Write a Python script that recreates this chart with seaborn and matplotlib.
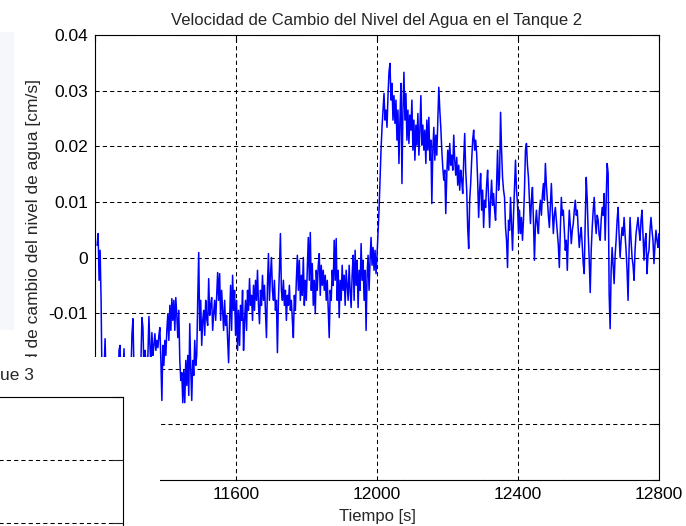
import numpy as np
import pandas as pd
import matplotlib
matplotlib.use("Agg")
import matplotlib.pyplot as plt
from matplotlib.patches import Rectangle
import seaborn as sns

# Tanque 2: velocidad de cambio del nivel [cm/s], muestreo uniforme
T_INICIO = 11206          # s, primera muestra visible
PERIODO = 2.826           # s entre muestras leidas
VELOCIDAD = [
    0.0022, 0.0043, -0.0041, 0.0013, -0.0077,
    -0.0239, -0.0212, -0.0203, -0.0146, -0.0221, -0.0207, -0.0230, -0.0203, -0.0218, -0.0243,
    -0.0230, -0.0203, -0.0221, -0.0212, -0.0236, -0.0207, -0.0239, -0.0167, -0.0158, -0.0221,
    -0.0194, -0.0203, -0.0164, -0.0230, -0.0200, -0.0218, -0.0212, -0.0230, -0.0239, -0.0207,
    -0.0137, -0.0110, -0.0203, -0.0189, -0.0221, -0.0207, -0.0194, -0.0218, -0.0230, -0.0185,
    -0.0108, -0.0126, -0.0203, -0.0167, -0.0185, -0.0207, -0.0176, -0.0106, -0.0158, -0.0194,
    -0.0135, -0.0176, -0.0158, -0.0137, -0.0167, -0.0149, -0.0162, -0.0140, -0.0126, -0.0185,
    -0.0257, -0.0158, -0.0194, -0.0149, -0.0176, -0.0131, -0.0101, -0.0149, -0.0086, -0.0131,
    -0.0074, -0.0113, -0.0077, -0.0131, -0.0072, -0.0104, -0.0144, -0.0095, -0.0185, -0.0221,
    -0.0207, -0.0261, -0.0203, -0.0261, -0.0185, -0.0230, -0.0176, -0.0248, -0.0119, -0.0203,
    -0.0257, -0.0185, -0.0212, -0.0149, -0.0194, -0.0176, -0.0077, 0.0009, -0.0131, -0.0077,
    -0.0158, -0.0113, -0.0095, -0.0140, -0.0077, -0.0110, -0.0122, -0.0038, -0.0104, -0.0086,
    -0.0072, -0.0131, -0.0099, -0.0077, -0.0113, -0.0068, -0.0027, -0.0077, -0.0029, -0.0113,
    -0.0059, -0.0095, -0.0131, -0.0077, -0.0122, -0.0104, -0.0149, -0.0189, -0.0113, -0.0050,
    -0.0131, -0.0032, -0.0095, -0.0059, -0.0140, -0.0077, -0.0167, -0.0095, -0.0158, -0.0086,
    -0.0113, -0.0059, -0.0167, -0.0113, -0.0077, -0.0131, -0.0059, -0.0095, -0.0038, -0.0086,
    -0.0068, -0.0113, -0.0050, -0.0095, -0.0041, -0.0077, -0.0023, -0.0086, -0.0119, -0.0059,
    -0.0086, -0.0032, -0.0077, -0.0050, -0.0095, -0.0144, -0.0050, 0.0007, -0.0077, -0.0032,
    0.0000, -0.0059, -0.0077, -0.0041, -0.0095, -0.0077, -0.0171, -0.0077, -0.0023, 0.0043,
    -0.0059, -0.0077, -0.0041, -0.0086, -0.0059, -0.0113, -0.0068, -0.0086, -0.0050, -0.0095,
    -0.0077, -0.0113, -0.0144, -0.0068, -0.0095, -0.0041, 0.0004, -0.0059, -0.0005, -0.0077,
    -0.0032, -0.0068, 0.0000, -0.0086, -0.0041, -0.0077, -0.0023, 0.0036, -0.0041, 0.0045,
    -0.0059, -0.0011, -0.0086, -0.0041, -0.0101, -0.0023, -0.0059, -0.0014, 0.0007, -0.0068,
    -0.0014, -0.0050, -0.0023, -0.0059, -0.0032, -0.0077, -0.0041, -0.0095, -0.0144, -0.0059,
    -0.0077, -0.0023, -0.0050, 0.0031, -0.0041, 0.0034, -0.0077, -0.0023, -0.0108, -0.0041,
    -0.0077, -0.0014, -0.0059, -0.0032, -0.0086, -0.0023, -0.0050, -0.0077, -0.0014, -0.0059,
    -0.0090, -0.0032, 0.0004, -0.0077, 0.0013, -0.0050, -0.0005, -0.0090, -0.0023, -0.0059,
    0.0025, -0.0041, -0.0005, -0.0077, -0.0023, -0.0131, -0.0032, 0.0004, -0.0059, -0.0005,
    0.0036, -0.0014, 0.0018, -0.0023, 0.0013, -0.0029, 0.0004, 0.0043, 0.0085, 0.0139,
    0.0193, 0.0234, 0.0265, 0.0295, 0.0247, 0.0265, 0.0234, 0.0291, 0.0333, 0.0349,
    0.0283, 0.0313, 0.0247, 0.0291, 0.0241, 0.0283, 0.0211, 0.0265, 0.0169, 0.0247,
    0.0313, 0.0133, 0.0265, 0.0333, 0.0247, 0.0295, 0.0211, 0.0265, 0.0205, 0.0256,
    0.0229, 0.0283, 0.0193, 0.0247, 0.0175, 0.0238, 0.0202, 0.0259, 0.0184, 0.0229,
    0.0291, 0.0202, 0.0238, 0.0193, 0.0229, 0.0169, 0.0247, 0.0193, 0.0252, 0.0175,
    0.0211, 0.0097, 0.0193, 0.0234, 0.0175, 0.0220, 0.0184, 0.0247, 0.0306, 0.0265,
    0.0234, 0.0193, 0.0162, 0.0139, 0.0157, 0.0079, 0.0148, 0.0193, 0.0157, 0.0205,
    0.0166, 0.0184, 0.0157, 0.0220, 0.0175, 0.0148, 0.0180, 0.0130, 0.0166, 0.0121,
    0.0157, 0.0139, 0.0115, 0.0175, 0.0223, 0.0157, 0.0121, 0.0054, 0.0016, 0.0103,
    0.0133, 0.0175, 0.0211, 0.0229, 0.0193, 0.0211, 0.0187, 0.0139, 0.0072, 0.0121,
    0.0151, 0.0085, 0.0121, 0.0054, 0.0103, 0.0090, 0.0130, 0.0157, 0.0103, 0.0054,
    0.0103, 0.0139, 0.0094, 0.0115, 0.0085, 0.0067, 0.0130, 0.0193, 0.0121, 0.0144,
    0.0261, 0.0193, 0.0144, 0.0121, 0.0108, 0.0054, 0.0031, -0.0018, 0.0067, 0.0049,
    0.0108, 0.0058, 0.0013, 0.0076, 0.0126, 0.0175, 0.0121, 0.0097, 0.0043, 0.0085,
    0.0043, 0.0072, 0.0031, 0.0067, 0.0121, 0.0193, 0.0205, 0.0166, 0.0144, 0.0103,
    0.0061, 0.0103, 0.0126, 0.0067, -0.0005, 0.0058, 0.0085, 0.0058, 0.0043, 0.0085,
    0.0103, 0.0076, 0.0112, 0.0133, 0.0103, 0.0169, 0.0130, 0.0103, 0.0076, 0.0054,
    0.0094, 0.0133, 0.0085, 0.0043, 0.0076, 0.0090, 0.0067, 0.0043, 0.0022, -0.0018,
    0.0049, 0.0108, 0.0076, 0.0085, 0.0049, 0.0013, 0.0031, -0.0023, 0.0040, 0.0085,
    0.0058, 0.0025, 0.0049, 0.0061, 0.0085, 0.0103, 0.0076, 0.0085, 0.0049, 0.0018,
    0.0040, 0.0054, 0.0022, -0.0011, -0.0029, 0.0067, 0.0144, 0.0103, 0.0043, -0.0005,
    -0.0063, 0.0013, 0.0054, 0.0085, 0.0108, 0.0067, 0.0043, 0.0076, 0.0067, 0.0040,
    0.0031, 0.0067, 0.0090, 0.0076, 0.0115, 0.0031, 0.0103, 0.0169, 0.0151, -0.0065,
    -0.0128, -0.0023, 0.0018, -0.0014, -0.0047, 0.0004, 0.0031, 0.0067, 0.0090, 0.0040,
    0.0000, 0.0031, 0.0054, 0.0040, 0.0072, 0.0040, 0.0013, -0.0023, -0.0077, 0.0013,
    0.0072, 0.0031, 0.0000, -0.0014, -0.0041, 0.0013, 0.0043, 0.0058, 0.0072, 0.0049,
    0.0031, 0.0067, 0.0085, 0.0040, -0.0005, 0.0031, 0.0043, -0.0029, 0.0004, 0.0013,
    0.0049, 0.0072, 0.0049, 0.0031, -0.0011, 0.0022, 0.0049, 0.0031, 0.0018, 0.0043,
]

X_TICKS = [11200, 11600, 12000, 12400, 12800]
Y_TICKS = [-0.04, -0.03, -0.02, -0.01, 0, 0.01, 0.02, 0.03, 0.04]
Y_TICK_LABELS = ["-0.04", "-0.03", "-0.02", "-0.01", "0", "0.01", "0.02", "0.03", "0.04"]

TITULO = "Velocidad de Cambio del Nivel del Agua en el Tanque 2"
ETIQUETA_X = "Tiempo [s]"
# parte visible de la etiqueta y (el resto queda bajo la otra ventana)
ETIQUETA_Y = "d de cambio del nivel de agua [cm/s]"
TITULO_TANQUE3 = "ue 3"   # lo que asoma del titulo de la otra ventana

W, H = 686, 526

sns.set_style("white")
plt.rcParams["font.family"] = ["Liberation Sans", "DejaVu Sans"]
plt.rcParams["font.size"] = 12

df = pd.DataFrame({
    "tiempo": T_INICIO + PERIODO * np.arange(len(VELOCIDAD)),
    "velocidad": VELOCIDAD,
})

fig = plt.figure(figsize=(W / 100, H / 100), dpi=100)
fig.patch.set_facecolor("white")

grid_kw = dict(color="black", linewidth=0.75, linestyle=(0, (4, 3)))

# main axes (Tanque 2)
ax = fig.add_axes([95 / W, 1 - 480 / H, (659 - 95) / W, (480 - 35) / H])
ax.set_zorder(1)
sns.lineplot(data=df, x="tiempo", y="velocidad", ax=ax, color="#0000ff",
             linewidth=1.1, estimator=None, sort=False)
ax.set_xlim(X_TICKS[0], X_TICKS[-1])
ax.set_ylim(Y_TICKS[0], Y_TICKS[-1])
ax.set_xticks(X_TICKS)
ax.set_yticks(Y_TICKS)
ax.set_yticklabels(Y_TICK_LABELS)
ax.grid(True, **grid_kw)
for s in ax.spines.values():
    s.set_visible(True)
    s.set_color("black")
    s.set_linewidth(0.8)
ax.tick_params(direction="in", length=4.5, width=0.8, top=True, right=True,
               labelsize=12.5, pad=5, colors="black")
ax.set_title(TITULO, fontsize=12, pad=7)
ax.set_xlabel(ETIQUETA_X, fontsize=12, labelpad=5)
ax.set_ylabel("")
fig.text(34 / W, 1 - 362 / H, ETIQUETA_Y, rotation=90, ha="center",
         va="bottom", fontsize=12.5, zorder=1.5)

# faint window behind, top-left
fig.add_artist(Rectangle((0, 1 - 330 / H), 14 / W, 298 / H,
                         transform=fig.transFigure, color="#f6f7fa",
                         zorder=0.5, linewidth=0))

# overlapping window (Tanque 3) in the lower-left corner
fig.add_artist(Rectangle((0, 0), 160 / W, 1 - 357 / H,
                         transform=fig.transFigure, facecolor="white",
                         edgecolor="none", zorder=2))

ax3 = fig.add_axes([-0.4, 1 - 586 / H, 0.4 + 123 / W, (586 - 397) / H])
ax3.set_zorder(3)
ax3.set_xlim(0, 1)
ax3.set_ylim(0, 3)
ax3.set_xticks([])
ax3.set_yticks([0, 1, 2, 3])
ax3.set_yticklabels([])
ax3.grid(True, axis="y", **grid_kw)
for s in ax3.spines.values():
    s.set_visible(True)
    s.set_color("black")
    s.set_linewidth(0.8)
ax3.tick_params(axis="y", direction="in", length=8, width=0.8, left=False, right=True)
fig.text(34 / W, 1 - 375 / H, TITULO_TANQUE3, ha="right", va="center",
         fontsize=12.5, zorder=4)

fig.savefig("out.png", dpi=100)
